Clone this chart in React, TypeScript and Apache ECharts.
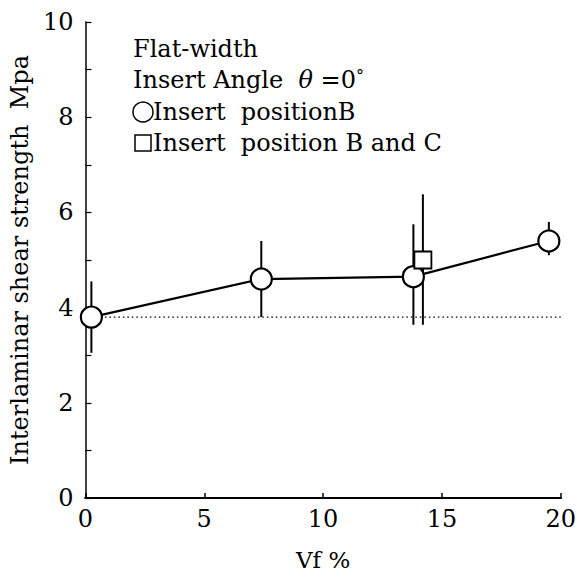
import React, { useEffect, useRef } from "react";
import * as echarts from "echarts";

const vfB = [0.25, 7.4, 13.8, 19.5];
const strengthB = [3.8, 4.6, 4.65, 5.4];
const lowB = [3.05, 3.8, 3.64, 5.1];
const highB = [4.55, 5.4, 5.75, 5.8];

const vfBC = [14.2];
const strengthBC = [5.0];
const lowBC = [3.64];
const highBC = [6.38];

const refLineX = [0.25, 20];
const refLineY = [3.8, 3.8];

const xTicks = [0, 5, 10, 15, 20];
const yTicks = [0, 2, 4, 6, 8, 10];

const legendLines = ["Flat-width", "Insert Angle", "Insert  positionB", "Insert  position B and C"];

const FONT = "'DejaVu Serif', 'Liberation Serif', serif";
const LF = 24;

export default function App() {
  const ref = useRef<HTMLDivElement>(null);
  useEffect(() => {
    if (!ref.current) return;
    const chart = echarts.init(ref.current, null, { renderer: "svg" });
    const errData = [
      ...vfB.map((x, i) => [x, lowB[i], highB[i]]),
      ...vfBC.map((x, i) => [x, lowBC[i], highBC[i]]),
    ];
    const txt = (x: number, y: number, text: string, extra: any = {}) => ({
      type: "text",
      x,
      y,
      style: {
        text,
        fontFamily: FONT,
        fontSize: LF,
        fill: "#000",
        align: "left",
        verticalAlign: "middle",
        ...extra,
      },
    });
    const option: any = {
      animation: false,
      backgroundColor: "#ffffff",
      grid: { left: 84, right: 15, top: 22, bottom: 86, containLabel: false },
      xAxis: [
        {
          type: "value",
          min: xTicks[0],
          max: xTicks[xTicks.length - 1],
          interval: 5,
          name: "Vf %",
          nameLocation: "middle",
          nameGap: 50,
          nameTextStyle: { fontFamily: FONT, fontSize: 23, color: "#000" },
          axisLine: { show: true, lineStyle: { color: "#000", width: 2 } },
          axisTick: { show: true, inside: true, length: 5, lineStyle: { color: "#000", width: 1.5 } },
          axisLabel: { fontFamily: FONT, fontSize: 24, color: "#000", margin: 9 },
          splitLine: { show: false },
        },
        {
          type: "value",
          position: "top",
          min: 0,
          max: 20,
          axisLine: { show: true, lineStyle: { color: "#000", width: 2 } },
          axisTick: { show: false },
          axisLabel: { show: false },
          splitLine: { show: false },
        },
      ],
      yAxis: [
        {
          type: "value",
          min: yTicks[0],
          max: yTicks[yTicks.length - 1],
          interval: 1,
          name: "Interlaminar shear strength  Mpa",
          nameLocation: "middle",
          nameGap: 52,
          nameTextStyle: { fontFamily: FONT, fontSize: 24, color: "#000" },
          axisLine: { show: true, lineStyle: { color: "#000", width: 1.5 } },
          axisTick: { show: true, inside: true, length: 6, lineStyle: { color: "#000", width: 1.2 } },
          axisLabel: {
            fontFamily: FONT,
            fontSize: 24,
            color: "#000",
            margin: 12,
            formatter: (v: number) => (yTicks.includes(v) ? String(v) : ""),
          },
          splitLine: { show: false },
        },
        {
          type: "value",
          position: "right",
          min: 0,
          max: 10,
          axisLine: { show: true, lineStyle: { color: "#444", width: 1, type: "dotted" } },
          axisTick: { show: false },
          axisLabel: { show: false },
          splitLine: { show: false },
        },
      ],
      graphic: [
        txt(133, 49, legendLines[0]),
        txt(133, 80, legendLines[1] + "  {th|θ}{n| =0}{d|°}", {
          rich: {
            th: { fontFamily: FONT, fontSize: LF, fontStyle: "italic", fill: "#000" },
            n: { fontFamily: FONT, fontSize: LF, fill: "#000" },
            d: { fontFamily: FONT, fontSize: 16, fill: "#000", verticalAlign: "top", lineHeight: 26 },
          },
        }),
        {
          type: "circle",
          shape: { cx: 143, cy: 112, r: 10 },
          style: { fill: "#fff", stroke: "#000", lineWidth: 1.5 },
        },
        txt(153, 112, legendLines[2]),
        {
          type: "rect",
          shape: { x: 135, y: 135, width: 16, height: 16 },
          style: { fill: "#fff", stroke: "#000", lineWidth: 1.5 },
        },
        txt(153, 143, legendLines[3]),
      ],
      series: [
        {
          type: "line",
          data: refLineX.map((x, i) => [x, refLineY[i]]),
          symbol: "none",
          lineStyle: { color: "#000", width: 1.2, type: [1.5, 3] },
          z: 1,
        },
        {
          type: "custom",
          data: errData,
          z: 2,
          renderItem: (params: any, api: any) => {
            const x = api.value(0);
            const lo = api.coord([x, api.value(1)]);
            const hi = api.coord([x, api.value(2)]);
            return {
              type: "line",
              shape: { x1: lo[0], y1: lo[1], x2: hi[0], y2: hi[1] },
              style: { stroke: "#000", lineWidth: 2 },
            };
          },
        },
        {
          type: "line",
          data: vfB.map((x, i) => [x, strengthB[i]]),
          symbol: "circle",
          symbolSize: 21,
          lineStyle: { color: "#000", width: 2.2 },
          itemStyle: { color: "#fff", borderColor: "#000", borderWidth: 2.2 },
          z: 3,
        },
        {
          type: "scatter",
          data: vfBC.map((x, i) => [x, strengthBC[i]]),
          symbol: "rect",
          symbolSize: 17,
          itemStyle: { color: "#fff", borderColor: "#000", borderWidth: 1.8, opacity: 1 },
          z: 4,
        },
      ],
    };
    chart.setOption(option);
    return () => chart.dispose();
  }, []);
  return (
    <div
      ref={ref}
      style={{ position: "fixed", left: 0, top: 0, width: 579, height: 584, background: "#fff" }}
    />
  );
}
